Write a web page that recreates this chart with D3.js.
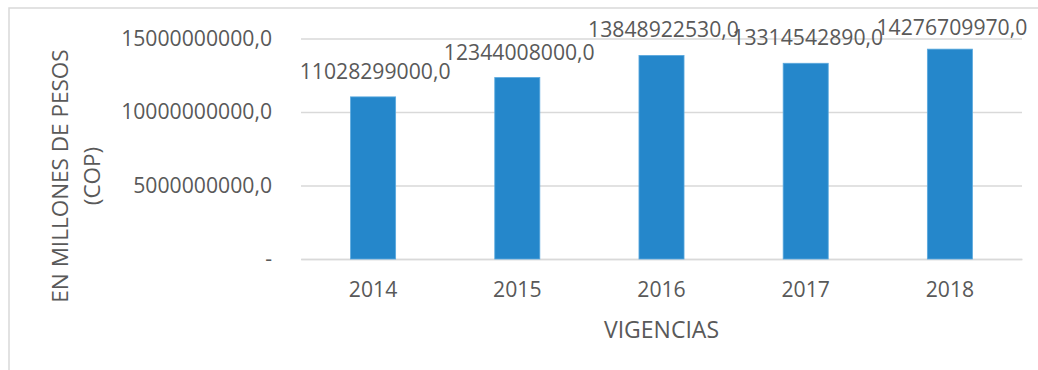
<!DOCTYPE html>
<html>
<head>
<meta charset="utf-8">
<script src="https://cdn.jsdelivr.net/npm/d3@7"></script>
<style>
  html, body { margin: 0; padding: 0; background: #ffffff; }
  svg { display: block; }
  text { font-family: "Open Sans", "Noto Sans", sans-serif; fill: #595959; }
</style>
</head>
<body>
<svg id="chart" width="1038" height="370"></svg>
<script>
// Presupuesto por vigencia (pesos colombianos)
const years = ["2014", "2015", "2016", "2017", "2018"];
const values = [11028299000, 12344008000, 13848922530, 13314542890, 14276709970];
const yTicks = [0, 5000000000, 10000000000, 15000000000];
const xTitle = "VIGENCIAS";
const yTitleLines = ["EN MILLONES DE PESOS", "(COP)"];

const svg = d3.select("#chart");
const W = 1038, H = 370;
const margin = { left: 301, right: 16, top: 38.5, bottom: 111 };
const plotW = W - margin.left - margin.right;
const plotH = H - margin.top - margin.bottom;

// chart frame
svg.append("rect")
  .attr("x", 9).attr("y", 8)
  .attr("width", W + 10).attr("height", H + 10)
  .attr("fill", "none").attr("stroke", "#d9d9d9").attr("stroke-width", 1.5);

const g = svg.append("g").attr("transform", `translate(${margin.left},${margin.top})`);

const x = d3.scaleBand().domain(years).range([0, plotW]).paddingInner(0.6875).paddingOuter(0.34375);
const y = d3.scaleLinear().domain([0, 15000000000]).range([plotH, 0]);

const fmt = v => v === 0 ? "-" : d3.format(".1f")(v).replace(".", ",");
const fontSize = 21.2;

// horizontal gridlines with tick labels
const yAxis = d3.axisLeft(y).tickValues(yTicks).tickSize(-plotW).tickPadding(29).tickFormat(fmt);
g.append("g").call(yAxis).call(a => {
  a.select(".domain").remove();
  a.selectAll(".tick line").attr("stroke", "#d9d9d9").attr("stroke-width", 1.3);
  a.selectAll(".tick text").attr("font-size", fontSize).attr("fill", "#595959");
});

// category axis
g.append("g").attr("transform", `translate(0,${plotH})`)
  .call(d3.axisBottom(x).tickSize(0).tickPadding(23))
  .call(a => {
    a.select(".domain").attr("stroke", "#d9d9d9").attr("stroke-width", 1.5);
    a.selectAll(".tick text").attr("font-size", fontSize).attr("fill", "#595959");
  });

// bars
g.selectAll("rect.bar").data(years).join("rect")
  .attr("class", "bar")
  .attr("x", d => x(d))
  .attr("width", x.bandwidth())
  .attr("y", (d, i) => y(values[i]))
  .attr("height", (d, i) => plotH - y(values[i]))
  .attr("fill", "#2587cb")
  .attr("stroke", "#5aa9de").attr("stroke-width", 0.8);

// value labels
g.selectAll("text.val").data(years).join("text")
  .attr("class", "val")
  .attr("x", d => x(d) + x.bandwidth() / 2 + 2)
  .attr("y", (d, i) => Math.max(y(values[i]) - 18, -3.5))
  .attr("text-anchor", "middle")
  .attr("font-size", fontSize)
  .attr("fill", "#404040")
  .text((d, i) => fmt(values[i]));

// axis titles
svg.append("text")
  .attr("x", margin.left + plotW / 2)
  .attr("y", 338)
  .attr("text-anchor", "middle")
  .attr("font-size", 23)
  .text(xTitle);

const yt = svg.append("text")
  .attr("transform", "translate(68,176) rotate(-90)")
  .attr("text-anchor", "middle")
  .attr("font-size", 22.5);
yTitleLines.forEach((t, i) => {
  yt.append("tspan").attr("x", 0).attr("dy", i === 0 ? 0 : 32).text(t);
});
</script>
</body>
</html>
